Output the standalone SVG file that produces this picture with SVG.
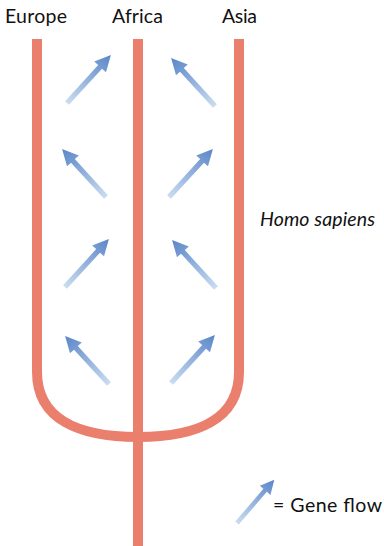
<svg xmlns="http://www.w3.org/2000/svg" width="384" height="546" viewBox="0 0 384 546">
<style>
.lbl{font-family:Lato,"Open Sans","Liberation Sans",sans-serif;font-size:19.5px;fill:#111}
.it{font-style:italic}
.br{fill:none;stroke:#EA7F6D;stroke-width:10}
</style>
<defs>
<linearGradient id="g" x1="0" y1="0" x2="65" y2="0" gradientUnits="userSpaceOnUse">
<stop offset="0" stop-color="#CADCF1"/>
<stop offset="1" stop-color="#5A86C8"/>
</linearGradient>
<g id="arr">
<path d="M0 -2.6 H49 V-8 L65 0 L49 8 V2.6 H0 Z" fill="url(#g)"/>
</g>
</defs>
<g id="connectors">
<path class="br" d="M37 39 V372 C37 420 80 437 138 437 C196 437 239 420 239 372 V39"/>
<path class="br" d="M138 39 V546"/>
</g>
<g id="geneflow">
<use href="#arr" transform="translate(67,103) rotate(-47.5)"/>
<use href="#arr" transform="translate(215,106) rotate(-132.5)"/>
<use href="#arr" transform="translate(106,197) rotate(-132.5)"/>
<use href="#arr" transform="translate(169,197) rotate(-47.5)"/>
<use href="#arr" transform="translate(65,287) rotate(-47.5)"/>
<use href="#arr" transform="translate(216,288) rotate(-132.5)"/>
<use href="#arr" transform="translate(109,384) rotate(-132.5)"/>
<use href="#arr" transform="translate(171,383) rotate(-47.5)"/>
</g>
<g id="europe"><text class="lbl" x="5" y="23" textLength="62">Europe</text></g>
<g id="africa"><text class="lbl" x="112" y="23" textLength="51">Africa</text></g>
<g id="asia"><text class="lbl" x="222" y="23" textLength="35">Asia</text></g>
<g id="homo"><text class="lbl it" x="260" y="226" textLength="115">Homo sapiens</text></g>
<g id="legend">
<use href="#arr" transform="translate(237,523) rotate(-49.3) scale(0.88)"/>
<text class="lbl" x="273" y="512" textLength="109">= Gene flow</text>
</g>
</svg>
